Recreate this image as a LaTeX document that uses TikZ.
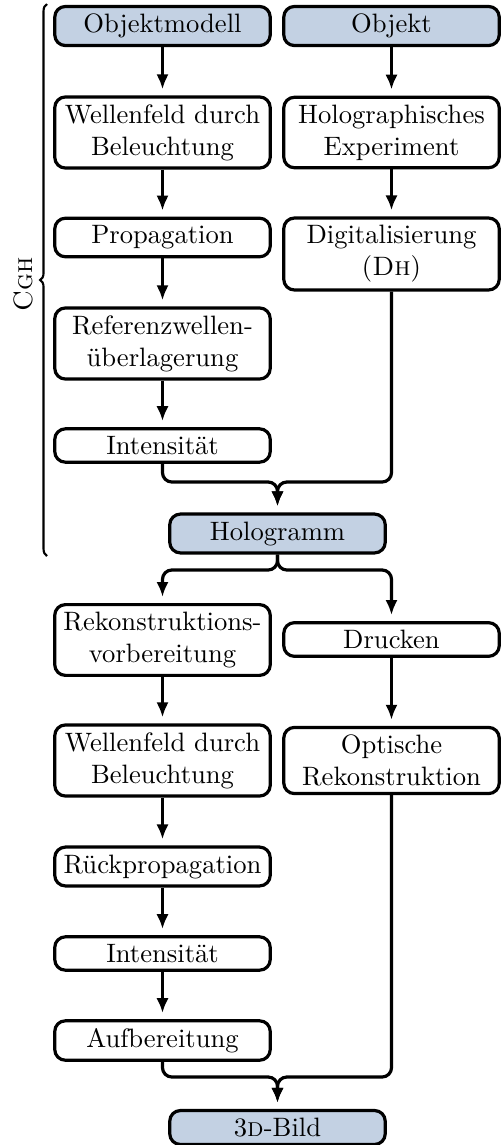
\documentclass[tikz,border=0pt]{standalone}
\usetikzlibrary{arrows.meta,decorations.pathreplacing}
\definecolor{keyfill}{RGB}{195,209,227}
\begin{document}
\begin{tikzpicture}[x=0.3759pt,y=-0.3759pt,
  box/.style={draw,line width=1.2pt,rounded corners=4pt,minimum width=81pt,
    inner xsep=2pt,inner ysep=2.8pt,align=center},
  keybox/.style={box,fill=keyfill},
  conn/.style={line width=1.2pt,rounded corners=3.5pt,
    -{Latex[length=5.6pt,width=4.6pt]},shorten >=2.3pt}]
\useasboundingbox (0,0) rectangle (503,1145);

% computer-generated branch (left) and optical recording (right)
\node[keybox] (obm)  at (162.5,26)    {Objektmodell};
\node[box]    (wf1)  at (162.5,132.5) {Wellenfeld durch\\Beleuchtung};
\node[box]    (prop) at (162.5,237.5) {Propagation};
\node[box]    (ref)  at (162.5,343.5) {Referenzwellen-\\überlagerung};
\node[box]    (int1) at (162.5,445.5) {Intensität};

\node[keybox] (obj)  at (391.5,26)    {Objekt};
\node[box]    (hexp) at (391.5,132.5) {Holographisches\\Experiment};
\node[box]    (dig)  at (391.5,254)   {Digitalisierung\\(\textsc{Dh})};

\node[keybox] (hg)   at (277.5,533.5) {Hologramm};

% numerical (left) and optical (right) reconstruction
\node[box]    (rek)  at (162.5,640)   {Rekonstruktions-\\vorbereitung};
\node[box]    (wf2)  at (162.5,760.5) {Wellenfeld durch\\Beleuchtung};
\node[box]    (rp)   at (162.5,866.5) {Rückpropagation};
\node[box]    (int2) at (162.5,953.5) {Intensität};
\node[box]    (auf)  at (162.5,1040.5){Aufbereitung};

\node[box]    (dr)   at (391.5,639.5) {Drucken};
\node[box]    (opt)  at (391.5,760.5) {Optische\\Rekonstruktion};

\node[keybox] (bild) at (277.5,1127.5){3\textsc{d}-Bild};

% junction points
\coordinate (m1) at (277.5,482);
\coordinate (s1) at (277.5,570);
\coordinate (m2) at (277.5,1077);

% straight steps
\draw[conn] (obm) -- (wf1);
\draw[conn] (wf1) -- (prop);
\draw[conn] (prop) -- (ref);
\draw[conn] (ref) -- (int1);
\draw[conn] (obj) -- (hexp);
\draw[conn] (hexp) -- (dig);
\draw[conn] (rek) -- (wf2);
\draw[conn] (wf2) -- (rp);
\draw[conn] (rp) -- (int2);
\draw[conn] (int2) -- (auf);
\draw[conn] (dr) -- (opt);

% merging into the hologram
\draw[conn] (int1.south) |- (m1) -- (hg.north);
\draw[conn] (dig.south) |- (m1) -- (hg.north);

% splitting from the hologram
\draw[conn] (hg.south) -- (s1) -| (rek.north);
\draw[conn] (hg.south) -- (s1) -| (dr.north);

% merging into the 3D image
\draw[conn] (auf.south) |- (m2) -- (bild.north);
\draw[conn] (opt.south) |- (m2) -- (bild.north);

% brace marking the CGH part
\coordinate (bb) at (47,556);
\coordinate (bt) at (47,4);
\draw[line width=0.8pt,decorate,decoration={brace,amplitude=2.6pt}] (bb) -- (bt);
\node[rotate=90,inner sep=0pt] (cgh) at (23.5,284) {\textsc{Cgh}};
\end{tikzpicture}
\end{document}
